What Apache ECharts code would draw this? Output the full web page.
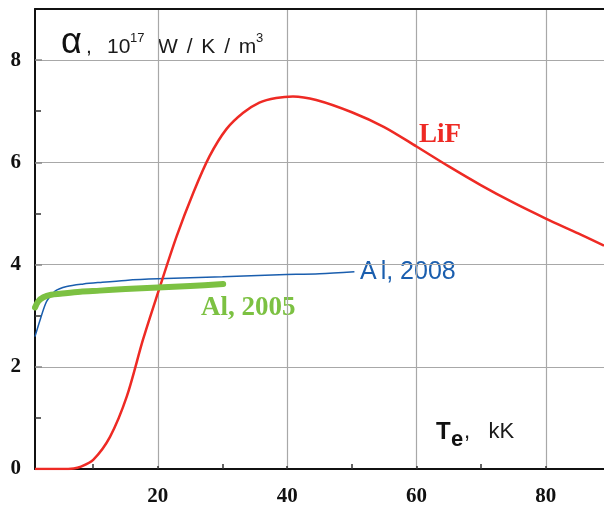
<!DOCTYPE html>
<html>
<head>
<meta charset="utf-8">
<script src="https://cdn.jsdelivr.net/npm/echarts@6/dist/echarts.min.js"></script>
<style>html,body{margin:0;padding:0;background:#fff;}#c{width:604px;height:510px;}</style>
</head>
<body>
<div id="c"></div>
<script>
// Data
const xMajor = [20, 40, 60, 80];
const xMinor = [10, 30, 50, 70];
const yMajor = [2, 4, 6, 8];
const yMinor = [1, 3, 5, 7];
const yLabels = [0, 2, 4, 6, 8];

const lifX = [1, 5, 7, 8, 10, 12.6, 15.2, 17.7, 20, 22.9, 25.5, 28, 30.6, 33.2, 35.7, 38.3, 40.9, 44.5, 50, 55, 60, 65, 70, 75, 80, 85, 89];
const lifY = [0, 0, 0.01, 0.04, 0.18, 0.63, 1.42, 2.53, 3.44, 4.55, 5.41, 6.12, 6.65, 6.97, 7.17, 7.26, 7.29, 7.22, 6.98, 6.69, 6.31, 5.92, 5.55, 5.21, 4.90, 4.61, 4.37];

const al2008X = [1, 1.8, 2.8, 4.1, 5.9, 8.5, 11, 15, 20, 30, 38.8, 45, 50.4];
const al2008Y = [2.59, 2.92, 3.28, 3.48, 3.57, 3.62, 3.65, 3.69, 3.72, 3.76, 3.80, 3.82, 3.86];

const al2005X = [1, 1.5, 2.3, 3.5, 4.9, 8, 11, 15, 20, 25, 30.1];
const al2005Y = [3.16, 3.28, 3.36, 3.41, 3.43, 3.47, 3.49, 3.52, 3.55, 3.58, 3.62];

const zip = (xs, ys) => xs.map((x, i) => [x, ys[i]]);

const chart = echarts.init(document.getElementById('c'));
const serifB = {fontFamily: 'Liberation Serif', fontWeight: 'bold'};
const hidden = {axisLine: {show: false}, axisLabel: {show: false}, splitLine: {show: false}};
const txt = (left, top, text, font, fill) => ({type: 'text', left, top, style: {text, font, fill: fill || '#1a1a1a'}});
chart.setOption({
  animation: false,
  grid: {left: 35, top: 9, right: 0, bottom: 41, containLabel: false},
  xAxis: [
    {type: 'value', min: 1, max: 89, position: 'bottom',
     axisLine: {show: true, lineStyle: {color: '#111', width: 2}},
     axisTick: {show: true, inside: true, length: 3, customValues: xMajor, lineStyle: {color: '#333', width: 1.5}},
     axisLabel: {show: true, customValues: xMajor, margin: 17, color: '#111', fontSize: 21, ...serifB},
     splitLine: {show: true, lineStyle: {color: '#a8a8a8', width: 1.2}}},
    {type: 'value', min: 1, max: 89, position: 'bottom', ...hidden,
     axisTick: {show: true, inside: true, length: 5, customValues: xMinor, lineStyle: {color: '#333', width: 1.5}}},
    {type: 'value', min: 1, max: 89, position: 'top',
     axisLine: {show: true, lineStyle: {color: '#111', width: 2}},
     axisTick: {show: false}, axisLabel: {show: false}, splitLine: {show: false}}
  ],
  yAxis: [
    {type: 'value', min: 0, max: 9, position: 'left',
     axisLine: {show: true, lineStyle: {color: '#111', width: 2}},
     axisTick: {show: true, inside: true, length: 7, customValues: yMajor, lineStyle: {color: '#888', width: 1.5}},
     axisLabel: {show: true, customValues: yLabels, margin: 14, color: '#111', fontSize: 21, ...serifB},
     splitLine: {show: true, lineStyle: {color: '#a8a8a8', width: 1.2}}},
    {type: 'value', min: 0, max: 9, position: 'left', ...hidden,
     axisTick: {show: true, inside: true, length: 6, customValues: yMinor, lineStyle: {color: '#333', width: 1.5}}}
  ],
  series: [
    {name: 'LiF', type: 'line', data: zip(lifX, lifY), smooth: 0.3, showSymbol: false,
     lineStyle: {color: '#ee2a24', width: 2.5}, z: 3},
    {name: 'Al 2008', type: 'line', data: zip(al2008X, al2008Y), smooth: 0.3, showSymbol: false,
     lineStyle: {color: '#1a5eae', width: 1.5}, z: 2},
    {name: 'Al 2005', type: 'line', data: zip(al2005X, al2005Y), smooth: 0.3, showSymbol: false,
     lineStyle: {color: '#7cc142', width: 6, cap: 'round', join: 'round'}, z: 4}
  ],
  graphic: [
    txt(61, 25, 'α', '36px "Liberation Sans"', '#111'),
    txt(86, 37, ',', '21px "Liberation Sans"'),
    txt(107, 37, '10', '21px "Liberation Sans"'),
    txt(130, 32, '17', '13px "Liberation Sans"'),
    {type: 'text', left: 158, top: 37, style: {
      text: '{n|W}{p| / }{n|K}{p| / }{n|m}',
      rich: {
        n: {fontFamily: 'Liberation Sans', fontSize: 21, fill: '#1a1a1a'},
        p: {fontFamily: 'Liberation Sans', fontSize: 21, fill: '#1a1a1a', padding: [0, 3, 0, 3]}
      }}},
    txt(256, 32, '3', '13px "Liberation Sans"'),
    txt(436, 420, 'T', 'bold 24px "Liberation Sans"', '#111'),
    txt(451, 429, 'e', 'bold 22px "Liberation Sans"', '#111'),
    txt(464, 421, ',   kK', '22px "Liberation Sans"'),
    txt(419, 122, 'LiF', 'bold 27px "Liberation Serif"', '#ee2a24'),
    {type: 'text', left: 360, top: 260, style: {
      text: '{a|A}{b|l, 2008}',
      rich: {
        a: {fontFamily: 'Liberation Sans', fontSize: 25, fill: '#1a5eae', padding: [0,4,0,0]},
        b: {fontFamily: 'Liberation Sans', fontSize: 25, fill: '#1a5eae'}
      }}},
    txt(201, 295, 'Al, 2005', 'bold 27px "Liberation Serif"', '#7cc142')
  ]
});
</script>
</body>
</html>
